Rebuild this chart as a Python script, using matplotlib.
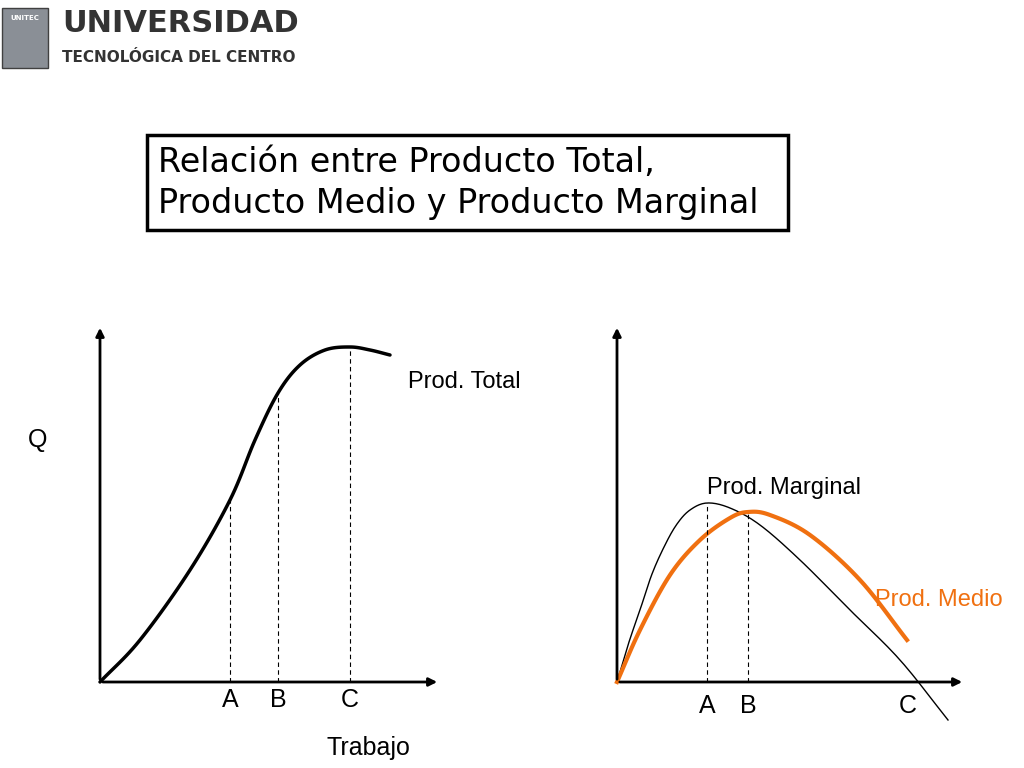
import matplotlib
matplotlib.use("Agg")
import numpy as np
import matplotlib.pyplot as plt
from matplotlib.patches import Rectangle

# curve data (units of labour / output)
total_x = [0, 40, 90, 130, 155, 178, 200, 225, 250, 270, 290]
total_y = [0, 42, 112, 182, 242, 289, 317, 332, 335, 332, 327]

marg_x = [0, 12, 23, 35, 48, 60, 73, 90, 113, 143, 183, 233, 283, 331]
marg_y = [0, 40, 72, 108, 137, 158, 172, 179, 174, 157, 122, 72, 22, -38]

med_x = [0, 23, 53, 83, 113, 131, 153, 193, 243, 290]
med_y = [0, 52, 107, 142, 164, 170, 167, 147, 102, 42]

left_marks = {"A": (130, 182), "B": (178, 289), "C": (250, 335)}
right_marks = {"A": (90, 179), "B": (131, 170)}

W, H = 1024, 768
fig = plt.figure(figsize=(W / 100, H / 100), dpi=100)
fig.patch.set_facecolor("white")
font = "Liberation Sans"


def smooth(xs, ys, n=12):
    # Catmull-Rom rendering of the read points, only for a smooth stroke
    p = np.column_stack([xs, ys]).astype(float)
    p = np.vstack([2 * p[0] - p[1], p, 2 * p[-1] - p[-2]])
    out = []
    t = np.linspace(0, 1, n, endpoint=False)[:, None]
    for i in range(1, len(p) - 2):
        p0, p1, p2, p3 = p[i - 1], p[i], p[i + 1], p[i + 2]
        out.append(0.5 * (2 * p1 + (-p0 + p2) * t + (2 * p0 - 5 * p1 + 4 * p2 - p3) * t ** 2
                          + (-p0 + 3 * p1 - 3 * p2 + p3) * t ** 3))
    out.append(p[-2][None, :])
    out = np.vstack(out)
    return out[:, 0], out[:, 1]


def px_axes(x0, y0, w, h):
    ax = fig.add_axes([x0 / W, (H - y0) / H, w / W, h / H])
    ax.set_xlim(0, w)
    ax.set_ylim(0, h)
    ax.axis("off")
    return ax


def draw_axes(ax, w, h):
    for xy in [(0, h), (w, 0)]:
        ax.annotate("", xy=xy, xytext=(0, 0),
                    arrowprops=dict(arrowstyle="-|>", color="black", lw=2, mutation_scale=12),
                    annotation_clip=False)


# left panel
axl = px_axes(100, 682, 340, 357)
draw_axes(axl, 340, 357)
axl.plot(*smooth(total_x, total_y), color="black", lw=2.5, clip_on=False, solid_capstyle="round")
for name, (x, y) in left_marks.items():
    axl.plot([x, x], [0, y], color="black", lw=0.8, ls=(0, (4, 3)))
    axl.text(x, -18, name, ha="center", va="center", fontsize=18, family=font)
axl.text(308, 300, "Prod. Total", fontsize=17, family=font, va="center")
axl.text(-72, 242, "Q", fontsize=18, family=font, va="center")
axl.text(268, -66, "Trabajo", fontsize=18, family=font, va="center", ha="center")

# right panel
axr = px_axes(617, 682, 348, 357)
draw_axes(axr, 348, 357)
axr.plot(*smooth(marg_x, marg_y), color="black", lw=1, clip_on=False)
axr.plot(*smooth(med_x, med_y), color="#F07010", lw=3, clip_on=False)
for name, (x, y) in right_marks.items():
    axr.plot([x, x], [0, y], color="black", lw=0.8, ls=(0, (4, 3)))
    axr.text(x, -24, name, ha="center", va="center", fontsize=18, family=font)
axr.text(291, -24, "C", ha="center", va="center", fontsize=18, family=font)
axr.text(90, 194, "Prod. Marginal", fontsize=17, family=font, va="center")
axr.text(258, 82, "Prod. Medio", fontsize=17, family=font, va="center",
         color="#F07010", clip_on=False)

# title box
fig.patches.append(Rectangle((147 / W, (H - 230) / H), 641 / W, 95 / H,
                             transform=fig.transFigure, fill=False, ec="black", lw=2.5))
fig.text(158 / W, (H - 162) / H, "Relación entre Producto Total,", fontsize=24,
         family="DejaVu Sans", va="center")
fig.text(158 / W, (H - 204) / H, "Producto Medio y Producto Marginal", fontsize=24,
         family="DejaVu Sans", va="center")

# logo
fig.patches.append(Rectangle((2 / W, (H - 68) / H), 46 / W, 60 / H,
                             transform=fig.transFigure, fc="#8a8f96", ec="#404040", lw=1))
fig.text(25 / W, (H - 18) / H, "UNITEC", fontsize=5, color="white", ha="center",
         va="center", weight="bold")
t1 = fig.text(62 / W, (H - 24) / H, "UNIVERSIDAD", fontsize=22, weight="bold",
              family="DejaVu Sans", va="center", color="#333333")
t2 = fig.text(62 / W, (H - 58) / H, "TECNOLÓGICA DEL CENTRO", fontsize=11, weight="bold",
              family="DejaVu Sans", va="center", color="#333333")

fig.savefig("out.png", dpi=100)
